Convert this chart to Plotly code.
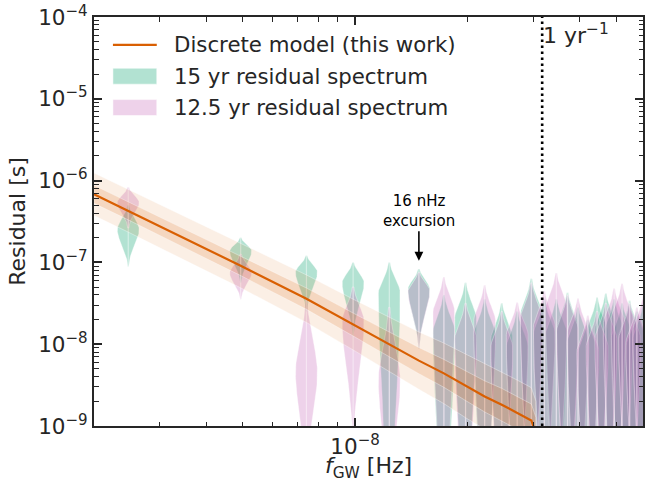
import numpy as np
import plotly.graph_objects as go

# ---------------- data ----------------
F0 = 2.47e-9                       # Hz, spacing of the spectral bins
bin_number = list(range(1, 25))
YEAR_FREQ = 1.0 / (365.25 * 86400)  # 1 / yr in Hz

# violin bodies, log10(residual / s): upper end, mode, lower end
res15_top = [-6.30, -6.70, -6.92, -7.00, -7.00, -7.08, -7.40, -7.25, -7.45, -7.50, -7.60, -7.20,
             -7.45, -7.45, -7.37, -7.55, -7.70, -7.43, -7.38, -7.45, -7.50, -7.47, -7.60, -7.50]
res15_mode = [-6.60, -6.86, -7.12, -7.25, -7.38, -7.33, -7.85, -7.70, -7.90, -7.95, -8.05, -7.65,
              -7.90, -7.90, -7.82, -8.00, -8.15, -7.88, -7.83, -7.90, -7.95, -7.92, -8.05, -7.95]
res15_bottom = [-7.05, -7.25, -7.60, -7.90, -10.8, -8.05, -11.0, -11.0, -11.0, -11.0, -11.0, -11.0,
                -11.0, -11.0, -11.0, -11.0, -11.0, -11.0, -11.0, -11.0, -11.0, -11.0, -11.0, -11.0]

res125_top = [-6.08, -6.90, -7.45, -7.30, -7.55, -7.12, -7.18, -7.50, -7.28, -7.60, -7.49, -7.25,
              -7.35, -7.13, -7.40, -7.44, -7.65, -7.60, -7.50, -7.32, -7.26, -7.50, -7.55, -7.40]
res125_mode = [-6.27, -7.13, -8.35, -7.72, -8.45, -7.35, -7.62, -7.95, -7.73, -8.05, -7.90, -7.70,
               -7.80, -7.58, -7.85, -7.89, -8.10, -8.05, -7.95, -7.77, -7.71, -7.95, -8.00, -7.85]
res125_bottom = [-6.58, -7.45, -9.60, -9.20, -10.0, -8.05, -11.0, -11.0, -11.0, -11.0, -11.0, -11.0,
                 -11.0, -11.0, -11.0, -11.0, -11.0, -11.0, -11.0, -11.0, -11.0, -11.0, -11.0, -11.0]

# discrete model: median residual and credible-band half widths (dex)
model_freq = [2.0e-9, 2.47e-9, 4.94e-9, 7.41e-9, 9.88e-9, 1.235e-8, 1.482e-8, 1.729e-8,
              1.976e-8, 2.223e-8, 2.47e-8, 2.717e-8, 2.964e-8, 3.05e-8]
model_res = [6.8e-7, 4.27e-7, 9.1e-8, 3.6e-8, 1.74e-8, 1.0e-8, 6.3e-9, 4.4e-9,
             3.1e-9, 2.3e-9, 1.82e-9, 1.45e-9, 1.17e-9, 8.0e-10]
band68_dex = [0.11, 0.11, 0.12, 0.13, 0.14, 0.15, 0.16, 0.17, 0.18, 0.19, 0.20, 0.20, 0.20, 0.20]
band95_dex = [0.26, 0.26, 0.27, 0.29, 0.31, 0.33, 0.35, 0.37, 0.39, 0.40, 0.40, 0.40, 0.40, 0.40]

excursion_bin = 6
excursion_tip = 1.05e-7

y_tick_vals = [1e-9, 1e-8, 1e-7, 1e-6, 1e-5, 1e-4]
y_tick_text = ["10<sup>−9</sup>", "10<sup>−8</sup>", "10<sup>−7</sup>",
               "10<sup>−6</sup>", "10<sup>−5</sup>", "10<sup>−4</sup>"]
x_tick_vals = [1e-8]
x_tick_text = ["10<sup>−8</sup>"]

# ---------------- style ----------------
FONT = "DejaVu Sans"
INK = "#262626"
GREEN = "rgba(0,158,105,0.30)"
PINK = "rgba(198,105,185,0.30)"
ORANGE = "#d95f02"
HALF_WIDTH_DEX = 0.0293

bin_freq = [n * F0 for n in bin_number]


def violin_outline(fc, top, mode, bottom, n=90):
    y = np.linspace(bottom, top, n)
    y = np.sort(np.append(y, mode))
    s = np.where(y >= mode, (top - mode) / 2.3, (mode - bottom) / 2.5)
    w = HALF_WIDTH_DEX * np.exp(-0.5 * ((y - mode) / s) ** 2)
    xs = np.concatenate([fc * 10 ** w, (fc * 10 ** (-w))[::-1], [fc * 10 ** w[0]]])
    ys = 10 ** np.concatenate([y, y[::-1], [y[0]]])
    return xs, ys


fig = go.Figure()

for tops, modes, bottoms, color in [(res15_top, res15_mode, res15_bottom, GREEN),
                                    (res125_top, res125_mode, res125_bottom, PINK)]:
    cx, cy = [], []
    for fc, t, m, b in zip(bin_freq, tops, modes, bottoms):
        xs, ys = violin_outline(fc, t, m, b)
        fig.add_trace(go.Scatter(x=xs, y=ys, mode="lines", fill="toself", fillcolor=color,
                                 line=dict(color="rgba(255,255,255,0.35)", width=1),
                                 hoverinfo="skip", showlegend=False))
        cx += [fc, fc, None]
        cy += [10 ** b, 10 ** t, None]
    fig.add_trace(go.Scatter(x=cx, y=cy, mode="lines",
                             line=dict(color="rgba(255,255,255,0.45)", width=1.2),
                             hoverinfo="skip", showlegend=False))

mf = np.array(model_freq)
mr = np.array(model_res)
for dex, alpha in [(np.array(band95_dex), 0.10), (np.array(band68_dex), 0.16)]:
    fig.add_trace(go.Scatter(
        x=np.concatenate([mf, mf[::-1], mf[:1]]),
        y=np.concatenate([mr * 10 ** dex, (mr / 10 ** dex)[::-1], (mr * 10 ** dex)[:1]]),
        mode="lines", fill="toself", fillcolor=f"rgba(217,95,2,{alpha})",
        line=dict(color="rgba(255,255,255,0.35)", width=1),
        hoverinfo="skip", showlegend=False))

fig.add_trace(go.Scatter(x=model_freq, y=model_res, mode="lines",
                         line=dict(color=ORANGE, width=2.2), showlegend=False))

# 1 / yr marker
fig.add_trace(go.Scatter(x=[YEAR_FREQ, YEAR_FREQ], y=[1e-9, 1e-4], mode="lines",
                         line=dict(color="black", width=2.6, dash="2.6px,3.4px"),
                         hoverinfo="skip", showlegend=False))
fig.add_annotation(x=np.log10(YEAR_FREQ), y=1.0, xref="x", yref="paper",
                   text="1 yr<sup>−1</sup>", showarrow=False, xanchor="left", yanchor="top",
                   xshift=-1, yshift=-1, font=dict(family=FONT, size=22, color=INK))

# excursion marker
fig.add_annotation(x=np.log10(bin_freq[excursion_bin - 1]), y=np.log10(excursion_tip),
                   text="16 nHz<br>excursion", showarrow=True, ax=0, ay=-50,
                   arrowhead=2, arrowsize=1.1, arrowwidth=1.6, arrowcolor="black",
                   font=dict(family=FONT, size=15, color="black"))

# legend
legend_items = [("line", ORANGE, "Discrete model (this work)"),
                ("patch", GREEN, "15 yr residual spectrum"),
                ("patch", PINK, "12.5 yr residual spectrum")]
plot_left, plot_w, plot_top, plot_h = 94, 551, 15, 411
for i, (kind, color, label) in enumerate(legend_items):
    yc = 43 + 31.5 * i
    yp = 1 - (yc - plot_top) / plot_h
    x0 = (113 - plot_left) / plot_w
    x1 = (157 - plot_left) / plot_w
    if kind == "line":
        fig.add_shape(type="line", xref="paper", yref="paper", x0=x0, x1=x1, y0=yp, y1=yp,
                      line=dict(color=color, width=2.2))
    else:
        dh = 8 / plot_h
        fig.add_shape(type="rect", xref="paper", yref="paper", x0=x0, x1=x1,
                      y0=yp - dh, y1=yp + dh, fillcolor=color,
                      line=dict(color="rgba(255,255,255,0.5)", width=1))
    fig.add_annotation(x=(172 - plot_left) / plot_w, y=yp, xref="paper", yref="paper",
                       text=label, showarrow=False, xanchor="left", yanchor="middle",
                       font=dict(family=FONT, size=21.3, color=INK))

y_minor = [m * 10.0 ** e for e in range(-9, -4) for m in range(2, 10)]
x_minor = [m * 1e-9 for m in range(2, 10)] + [m * 1e-8 for m in range(2, 6)]

axis_common = dict(type="log", showgrid=False, zeroline=False, showline=True,
                   linecolor=INK, linewidth=2, mirror="allticks",
                   ticks="inside", ticklen=8, tickwidth=1.5, tickcolor=INK,
                   ticklabeloverflow="allow",
                   tickfont=dict(family=FONT, size=21.5, color=INK))

fig.update_xaxes(**axis_common, range=[np.log10(2.0e-9), np.log10(5.9e-8)],
                 tickvals=x_tick_vals, ticktext=x_tick_text,
                 minor=dict(tickvals=x_minor, ticks="inside", ticklen=4.5, tickwidth=1.2,
                            tickcolor=INK),
                 title=dict(text="<i>f</i><sub>GW</sub> [Hz]", standoff=4,
                            font=dict(family=FONT, size=22, color=INK)))
fig.update_yaxes(**axis_common, range=[-9, -4],
                 tickvals=y_tick_vals, ticktext=y_tick_text,
                 minor=dict(tickvals=y_minor, ticks="inside", ticklen=4.5, tickwidth=1.2,
                            tickcolor=INK),
                 title=dict(text="Residual [s]", standoff=6,
                            font=dict(family=FONT, size=22, color=INK)))

fig.update_layout(width=646, height=482, margin=dict(l=94, r=1, t=15, b=56),
                  plot_bgcolor="white", paper_bgcolor="white",
                  font=dict(family=FONT, color=INK), showlegend=False)

fig.write_html("out.html")
